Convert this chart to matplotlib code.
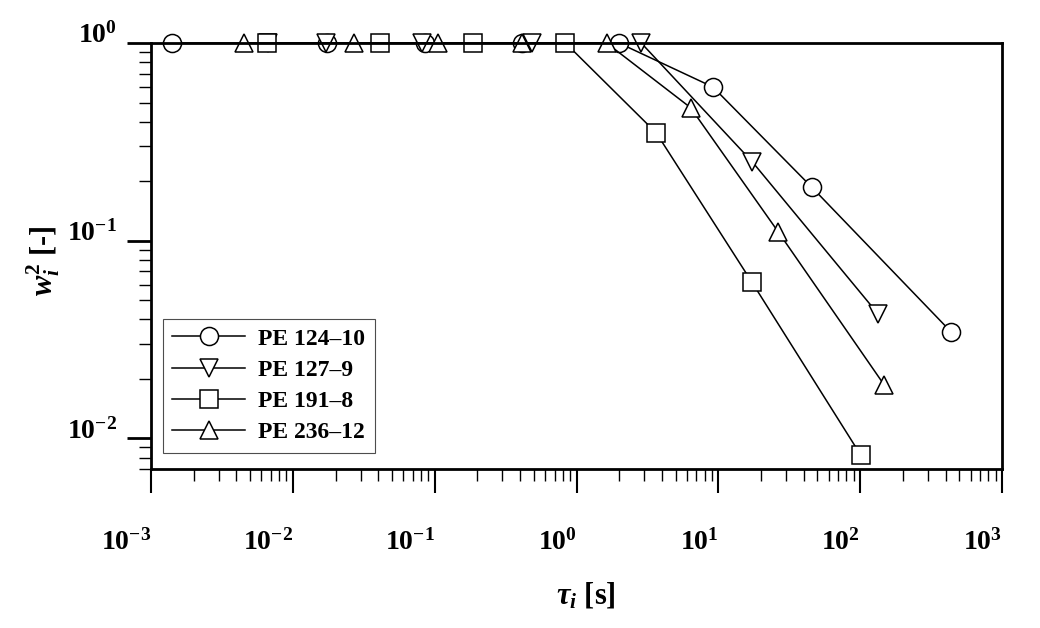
import matplotlib
matplotlib.use('Agg')
import matplotlib.pyplot as plt
from matplotlib.ticker import FixedLocator, LogLocator, NullFormatter, FixedFormatter

plt.rcParams.update({
    'font.family': ['Liberation Serif', 'DejaVu Serif'],
    'font.weight': 'bold',
    'axes.labelweight': 'bold',
    'mathtext.fontset': 'custom',
    'mathtext.rm': 'Liberation Serif:bold',
    'mathtext.it': 'Liberation Serif:italic:bold',
    'mathtext.bf': 'Liberation Serif:bold',
})

# ---- data ----
series_names = ['PE 124–10', 'PE 127–9', 'PE 191–8', 'PE 236–12']
series_markers = ['o', 'v', 's', '^']

tau_124 = [0.00141, 0.0174, 0.085, 0.413, 1.99, 9.16, 45.4, 437]
w2_124 = [1, 1, 1, 1, 1, 0.599, 0.187, 0.0346]

tau_127 = [0.00667, 0.0171, 0.0813, 0.485, 2.86, 17.4, 133]
w2_127 = [1, 1, 1, 1, 1, 0.250, 0.0428]

tau_191 = [0.00656, 0.0412, 0.185, 0.836, 3.65, 17.2, 101]
w2_191 = [1, 1, 1, 1, 0.351, 0.0619, 0.00823]

tau_236 = [0.00454, 0.027, 0.106, 0.413, 1.63, 6.37, 26.4, 148]
w2_236 = [1, 1, 1, 1, 1, 0.471, 0.111, 0.0186]

x_ticks = [1e-3, 1e-2, 1e-1, 1e0, 1e1, 1e2, 1e3]
x_ticklabels = [r'$10^{-3}$', r'$10^{-2}$', r'$10^{-1}$', r'$10^{0}$',
                r'$10^{1}$', r'$10^{2}$', r'$10^{3}$']
y_ticks = [1e-2, 1e-1, 1e0]
y_ticklabels = [r'$10^{-2}$', r'$10^{-1}$', r'$10^{0}$']

all_tau = [tau_124, tau_127, tau_191, tau_236]
all_w2 = [w2_124, w2_127, w2_191, w2_236]

# ---- figure ----
W, H = 1040, 628
fig = plt.figure(figsize=(W / 100, H / 100), dpi=100)
L, R, T, B = 151, 1002, 43, 469
ax = fig.add_axes([L / W, 1 - B / H, (R - L) / W, (B - T) / H])

for tau, w2, name, mk in zip(all_tau, all_w2, series_names, series_markers):
    ax.plot(tau, w2, color='black', lw=1.1, marker=mk, markersize=13,
            markerfacecolor='white', markeredgecolor='black',
            markeredgewidth=1.1, label=name, clip_on=False, zorder=2)

ax.set_xscale('log')
ax.set_yscale('log')
ax.set_xlim(1e-3, 1e3)
ax.set_ylim(0.007, 1.0)

ax.xaxis.set_major_locator(FixedLocator(x_ticks))
ax.xaxis.set_major_formatter(FixedFormatter(x_ticklabels))
ax.xaxis.set_minor_locator(LogLocator(base=10, subs=range(2, 10), numticks=50))
ax.xaxis.set_minor_formatter(NullFormatter())
ax.yaxis.set_major_locator(FixedLocator(y_ticks))
ax.yaxis.set_major_formatter(FixedFormatter(y_ticklabels))
ax.yaxis.set_minor_locator(LogLocator(base=10, subs=range(2, 10), numticks=50))
ax.yaxis.set_minor_formatter(NullFormatter())

for sp in ax.spines.values():
    sp.set_linewidth(2.0)
    sp.set_zorder(5)

ax.tick_params(axis='y', which='major', direction='out', length=17.5, width=2.0,
               pad=7, labelsize=20)
ax.tick_params(axis='y', which='minor', direction='out', length=8.6, width=1.0)
ax.tick_params(axis='x', which='major', direction='out', length=17.5, width=1.5,
               pad=26, labelsize=20)
ax.tick_params(axis='x', which='minor', direction='out', length=8.6, width=1.0)
ax.tick_params(top=False, right=False, which='both')
for lbl in ax.get_xticklabels():
    lbl.set_horizontalalignment('right')
for lbl in ax.get_yticklabels():
    lbl.set_verticalalignment('baseline')

ax.set_xlabel(r'$\tau_i$ [s]', fontsize=22, fontweight='bold', va='center')
ax.xaxis.set_label_coords((586 - L) / (R - L), (B - 596) / (B - T))
ax.set_ylabel(r'$w_i^{\mathit{2}}$ [-]', fontsize=22, fontweight='bold', va='center')
ax.yaxis.set_label_coords((43 - L) / (R - L), (B - 261) / (B - T))

leg = ax.legend(loc='upper left',
                bbox_to_anchor=((163 - L) / (R - L), (B - 319) / (B - T)),
                bbox_transform=ax.transAxes, borderaxespad=0,
                fancybox=False, framealpha=1, edgecolor='0.3',
                handlelength=3.1, handletextpad=0.55,
                labelspacing=0.41, borderpad=0.39, numpoints=1,
                prop={'family': 'Liberation Serif', 'weight': 'bold', 'size': 17})
leg.get_frame().set_linewidth(0.8)
leg.set_zorder(6)

fig.savefig('out.png', dpi=100)
